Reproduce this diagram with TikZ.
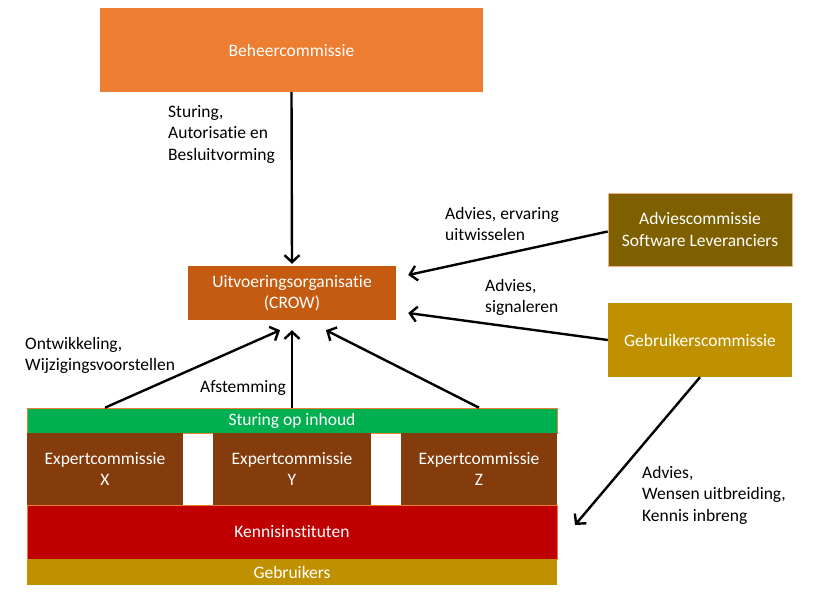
\documentclass[tikz,border=0pt]{standalone}
\usepackage{fontspec}
\setmainfont{Carlito}[Ligatures={NoCommon}]
\usepackage{tikz}
\usetikzlibrary{arrows.meta}
\usetikzlibrary{positioning}

\definecolor{beheerkleur}{HTML}{ED7D31}
\definecolor{crowkleur}{HTML}{C55A11}
\definecolor{advieskleur}{HTML}{7F6000}
\definecolor{gebrkleur}{HTML}{BF9000}
\definecolor{sturingkleur}{HTML}{00B050}
\definecolor{expertkleur}{HTML}{843C0C}
\definecolor{kenniskleur}{HTML}{C00000}
\definecolor{randkleur}{HTML}{F4B183}

\begin{document}
\begin{tikzpicture}[x=1pt,y=-1pt,
                    every node/.style={font=\fontsize{17.5}{21.5}\selectfont},
                    blok/.style={text=white, align=center, inner sep=0pt},
                    tekst/.style={align=left, inner sep=0pt, anchor=north west},
                    pijl/.style={line width=2.4pt, -{Straight Barb[length=7pt,width=15pt,line width=2.4pt]}}]
 \useasboundingbox (0,0) rectangle (814,592);
 \node[blok, fill=beheerkleur, minimum width=383pt, minimum height=84pt] (beheer) at (291.5,50) {Beheercommissie};
 \node[blok, fill=crowkleur, minimum width=208pt, minimum height=54pt] (crow) at (292,293) {Uitvoeringsorganisatie\\(CROW)};
 \node[blok, fill=advieskleur, draw=randkleur, line width=0.6pt, minimum width=184pt, minimum height=73pt] (adviescie) at (700,229.5) {Adviescommissie\\Software Leveranciers};
 \node[blok, fill=gebrkleur, minimum width=184pt, minimum height=74pt] (gebrcie) at (700,340) {Gebruikerscommissie};
 \node[blok, fill=sturingkleur, draw=beheerkleur, line width=0.6pt, minimum width=530pt, minimum height=25pt] (sturing) at (292,420.5) {Sturing op inhoud};
 \node[blok, fill=expertkleur, minimum width=156pt, minimum height=72pt] (expx) at (105,469) {Expertcommissie\\X};
 \node[blok, fill=expertkleur, minimum width=158pt, minimum height=72pt] (expy) at (292,469) {Expertcommissie\\Y};
 \node[blok, fill=expertkleur, minimum width=156pt, minimum height=72pt] (expz) at (479,469) {Expertcommissie\\Z};
 \node[blok, fill=kenniskleur, draw=beheerkleur, line width=0.6pt, minimum width=530pt, minimum height=54pt] (kennis) at (292,532) {Kennisinstituten};
 \node[blok, fill=gebrkleur, minimum width=530pt, minimum height=26pt] (gebruikers) at (292,572) {Gebruikers};
 \coordinate (inbreng) at (575,525);

 \draw[pijl] (beheer.south) -- ([yshift=2pt]crow.north);
 \draw[pijl] ([yshift=-2pt]adviescie.west) -- ([xshift=12pt,yshift=18pt]crow.east);
 \draw[pijl] (gebrcie.west) -- ([xshift=12pt,yshift=-20pt]crow.east);
 \draw[pijl] (sturing.north -| expx) -- ([xshift=-12pt,yshift=-10pt]crow.south);
 \draw[pijl] (sturing.north) -- ([yshift=-10pt]crow.south);
 \draw[pijl] (sturing.north -| expz) -- ([xshift=34pt,yshift=-10pt]crow.south);
 \draw[pijl] (gebrcie.south) -- (inbreng);

 \node[tekst] (sturinglabel) at (168,105) {Sturing,\\Autorisatie en\\Besluitvorming};
 \node[tekst] (ervaringlabel) at (445,207) {Advies, ervaring\\uitwisselen};
 \node[tekst] (signalerenlabel) at (485,279) {Advies,\\signaleren};
 \node[tekst] (ontwikkelinglabel) at (25,337) {Ontwikkeling,\\Wijzigingsvoorstellen};
 \node[tekst, anchor=north east] (afstemminglabel) at (286,380) {Afstemming};
 \node[tekst] (wensenlabel) at (642,466) {Advies,\\Wensen uitbreiding,\\Kennis inbreng};
\end{tikzpicture}
\end{document}
